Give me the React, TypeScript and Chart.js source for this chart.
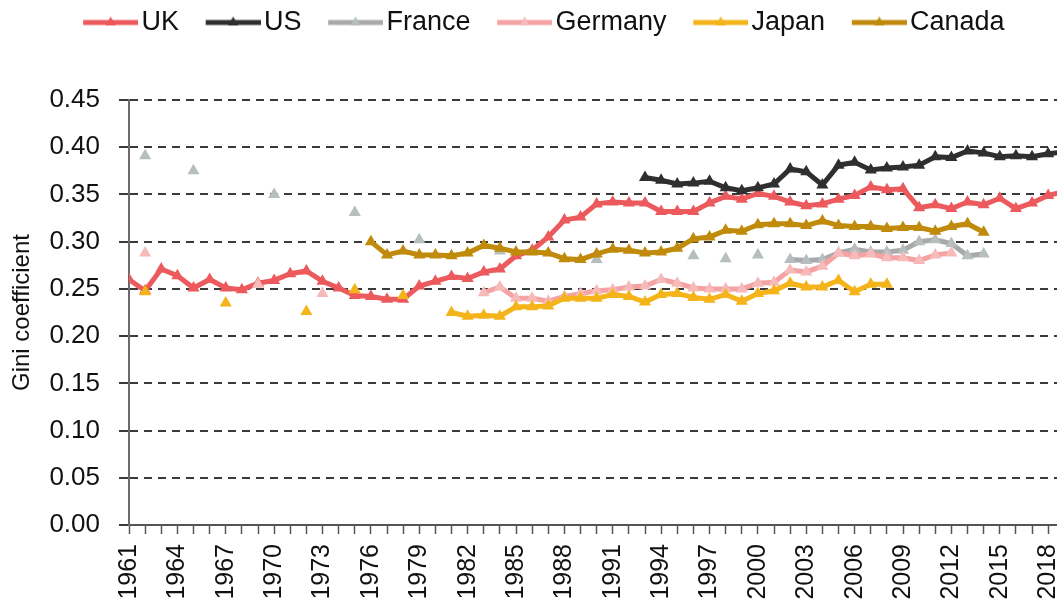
import React, { useEffect, useRef } from 'react';
import { Chart, registerables } from 'chart.js';

Chart.register(...registerables);

const years = [
  1961, 1962, 1963, 1964, 1965, 1966, 1967, 1968, 1969, 1970,
  1971, 1972, 1973, 1974, 1975, 1976, 1977, 1978, 1979, 1980,
  1981, 1982, 1983, 1984, 1985, 1986, 1987, 1988, 1989, 1990,
  1991, 1992, 1993, 1994, 1995, 1996, 1997, 1998, 1999, 2000,
  2001, 2002, 2003, 2004, 2005, 2006, 2007, 2008, 2009, 2010,
  2011, 2012, 2013, 2014, 2015, 2016, 2017, 2018, 2019,
];

const n = null;

const ukValues = [
  0.260, 0.248, 0.271, 0.264, 0.251, 0.260, 0.251, 0.249, 0.256, 0.259,
  0.266, 0.269, 0.258, 0.251, 0.243, 0.242, 0.239, 0.239, 0.253, 0.258,
  0.263, 0.261, 0.268, 0.271, 0.285, 0.291, 0.305, 0.323, 0.326, 0.340,
  0.342, 0.341, 0.341, 0.332, 0.332, 0.332, 0.341, 0.348, 0.345, 0.351,
  0.348, 0.342, 0.338, 0.340, 0.345, 0.349, 0.358, 0.355, 0.356, 0.336,
  0.339, 0.335, 0.342, 0.339, 0.346, 0.335, 0.341, 0.349, 0.353,
];

const usValues = [
  n, n, n, n, n, n, n, n, n, n,
  n, n, n, n, n, n, n, n, n, n,
  n, n, n, n, n, n, n, n, n, n,
  n, n, 0.368, 0.365, 0.361, 0.362, 0.364, 0.357, 0.354, 0.357,
  0.361, 0.377, 0.374, 0.360, 0.381, 0.384, 0.376, 0.378, 0.379, 0.381,
  0.390, 0.389, 0.396, 0.394, 0.390, 0.391, 0.390, 0.393, 0.395,
];

const franceValues = [
  n, 0.391, n, n, 0.375, n, n, n, n, 0.350,
  n, n, n, n, 0.331, n, n, n, 0.302, n,
  n, n, n, 0.290, n, n, n, n, n, 0.281,
  n, n, n, n, n, 0.285, n, 0.282, n, 0.286,
  n, 0.281, 0.280, 0.281, 0.288, 0.292, 0.289, 0.289, 0.291, 0.300,
  0.302, 0.298, 0.285, 0.287, n, n, n, n, n,
];

const germanyValues = [
  n, 0.288, n, n, n, n, n, n, 0.255, n,
  n, n, 0.245, n, n, n, n, n, n, n,
  n, n, 0.246, 0.252, 0.240, 0.240, 0.237, 0.242, 0.245, 0.248,
  0.249, 0.252, 0.253, 0.260, 0.256, 0.251, 0.250, 0.250, 0.250, 0.256,
  0.257, 0.270, 0.268, 0.274, 0.288, 0.285, 0.287, 0.283, 0.283, 0.280,
  0.286, 0.288, n, n, n, n, n, n, n,
];

const japanValues = [
  n, 0.247, n, n, n, n, 0.235, n, n, n,
  n, 0.226, n, n, 0.249, n, n, 0.243, n, n,
  0.225, 0.221, 0.222, 0.221, 0.231, 0.231, 0.232, 0.240, 0.240, 0.240,
  0.244, 0.242, 0.236, 0.244, 0.245, 0.241, 0.239, 0.244, 0.237, 0.245,
  0.248, 0.256, 0.252, 0.252, 0.259, 0.247, 0.255, 0.255, n, n,
  n, n, n, n, n, n, n, n, n,
];

const canadaValues = [
  n, n, n, n, n, n, n, n, n, n,
  n, n, n, n, n, 0.300, 0.286, 0.290, 0.286, 0.286,
  0.285, 0.288, 0.296, 0.293, 0.289, 0.289, 0.288, 0.282, 0.281, 0.287,
  0.292, 0.291, 0.288, 0.289, 0.293, 0.303, 0.305, 0.312, 0.311, 0.318,
  0.319, 0.319, 0.317, 0.322, 0.317, 0.316, 0.316, 0.314, 0.315, 0.315,
  0.311, 0.316, 0.319, 0.310, n, n, n, n, n,
];

const seriesNames = ['UK', 'US', 'France', 'Germany', 'Japan', 'Canada'];
const lineColors = ['#EC5A5D', '#2F2F2F', '#A9A9A9', '#F4A2A2', '#F4B41A', '#C08A0B'];
const pointColors = ['#EC5A5D', '#2F2F2F', '#B7BEBF', '#F7BABA', '#F4B41A', '#C08A0B'];

const xTickLabels = [
  '1961', '1964', '1967', '1970', '1973', '1976', '1979', '1982', '1985', '1988',
  '1991', '1994', '1997', '2000', '2003', '2006', '2009', '2012', '2015', '2018',
];

const yAxisTitle = 'Gini coefficient';

const FONT = '"Liberation Sans", Arial, Helvetica, sans-serif';

function legendImage(line: string, point: string): HTMLCanvasElement {
  const c = document.createElement('canvas');
  c.width = 83;
  c.height = 18;
  const g = c.getContext('2d')!;
  g.strokeStyle = line;
  g.lineWidth = 5;
  g.beginPath();
  g.moveTo(28, 9);
  g.lineTo(83, 9);
  g.stroke();
  g.fillStyle = point;
  const cx = 55.5;
  const cy = 9;
  const r = 6;
  g.beginPath();
  g.moveTo(cx, cy - r);
  g.lineTo(cx + r * 0.866, cy + r * 0.5);
  g.lineTo(cx - r * 0.866, cy + r * 0.5);
  g.closePath();
  g.fill();
  return c;
}

export default function App() {
  const ref = useRef<HTMLCanvasElement | null>(null);

  useEffect(() => {
    if (!ref.current) return;
    const allValues = [ukValues, usValues, franceValues, germanyValues, japanValues, canadaValues];
    const images = seriesNames.map((_, i) => legendImage(lineColors[i], pointColors[i]));

    const datasets = seriesNames.map((name, i) => ({
      label: name,
      data: years.map((yr, j) => ({ x: yr, y: allValues[i][j] })),
      borderColor: lineColors[i],
      backgroundColor: lineColors[i],
      borderWidth: 5,
      pointStyle: 'triangle' as const,
      pointRadius: 5.5,
      pointHoverRadius: 5.5,
      pointBorderWidth: 1.5,
      pointBackgroundColor: pointColors[i],
      pointBorderColor: pointColors[i],
      spanGaps: false,
      tension: 0,
      order: seriesNames.length - 1 - i,
    }));

    const legendHeightPlugin = {
      id: 'legendHeight',
      beforeLayout(chart: any) {
        const lg = chart.legend;
        if (lg && !lg._patchedFit) {
          const orig = lg.fit;
          lg.fit = function () {
            orig.call(this);
            this.height = 100;
          };
          lg._patchedFit = true;
        }
      },
    };

    const chart = new Chart(ref.current, {
      type: 'line',
      data: { datasets: datasets as any },
      plugins: [legendHeightPlugin],
      options: {
        responsive: false,
        animation: false,
        devicePixelRatio: 1,
        layout: { padding: { left: 13, right: 0, top: 0, bottom: 0 }, autoPadding: false } as any,
        plugins: {
          tooltip: { enabled: false },
          legend: {
            position: 'top',
            align: 'center',
            labels: {
              usePointStyle: true,
              pointStyleWidth: 62.5,
              padding: 9,
              color: '#111',
              font: { family: FONT, size: 27 },
              generateLabels: (c: any) =>
                c.data.datasets.map((ds: any, i: number) => ({
                  text: ds.label,
                  pointStyle: images[i],
                  fillStyle: 'rgba(0,0,0,0)',
                  strokeStyle: 'rgba(0,0,0,0)',
                  lineWidth: 0,
                  hidden: false,
                  datasetIndex: i,
                  fontColor: '#111',
                })),
            },
          } as any,
        },
        scales: {
          x: {
            type: 'linear',
            min: 1961,
            max: 2018.55,
            afterBuildTicks: (s: any) => {
              s.ticks = s.ticks.filter((t: any) => Number.isInteger(t.value));
            },
            afterFit: (s: any) => {
              s.height = 79;
              s.paddingLeft = 0;
              s.paddingRight = 0;
            },
            ticks: {
              stepSize: 1,
              includeBounds: false,
              autoSkip: false,
              minRotation: 90,
              maxRotation: 90,
              padding: 10,
              color: '#111',
              font: { family: FONT, size: 25 },
              callback: (v: any) => (xTickLabels.includes(String(v)) ? String(v) : ''),
            },
            grid: {
              drawOnChartArea: false,
              drawTicks: true,
              tickLength: 9,
              tickColor: '#555',
              tickWidth: 1.5,
              color: '#555',
            },
            border: { display: true, color: '#555', width: 2 },
          } as any,
          y: {
            min: 0,
            max: 0.45,
            afterFit: (s: any) => {
              s.width = 116;
              s.paddingTop = 0;
              s.paddingBottom = 0;
            },
            ticks: {
              stepSize: 0.05,
              padding: 19,
              color: '#111',
              font: { family: FONT, size: 26 },
              callback: (v: any) => Number(v).toFixed(2),
            },
            grid: {
              color: (ctx: any) => (ctx.tick && Math.abs(ctx.tick.value) < 1e-9 ? 'rgba(0,0,0,0)' : '#3a3a3a'),
              lineWidth: 2,
              drawTicks: true,
              tickLength: 10,
              tickColor: '#3a3a3a',
              tickWidth: 2,
            },
            border: { display: true, color: '#6b6b6b', width: 2, dash: [8, 6] },
            title: {
              display: true,
              text: yAxisTitle,
              color: '#111',
              font: { family: FONT, size: 24, lineHeight: 0.8 },
              padding: { top: 0, bottom: 0 },
            },
          } as any,
        },
      },
    });

    return () => chart.destroy();
  }, []);

  return (
    <div
      style={{
        position: 'fixed',
        left: 0,
        top: 0,
        width: 1057,
        height: 604,
        overflow: 'hidden',
        background: '#fff',
      }}
    >
      <canvas ref={ref} width={1057} height={604} style={{ display: 'block', width: 1057, height: 604 }} />
    </div>
  );
}
